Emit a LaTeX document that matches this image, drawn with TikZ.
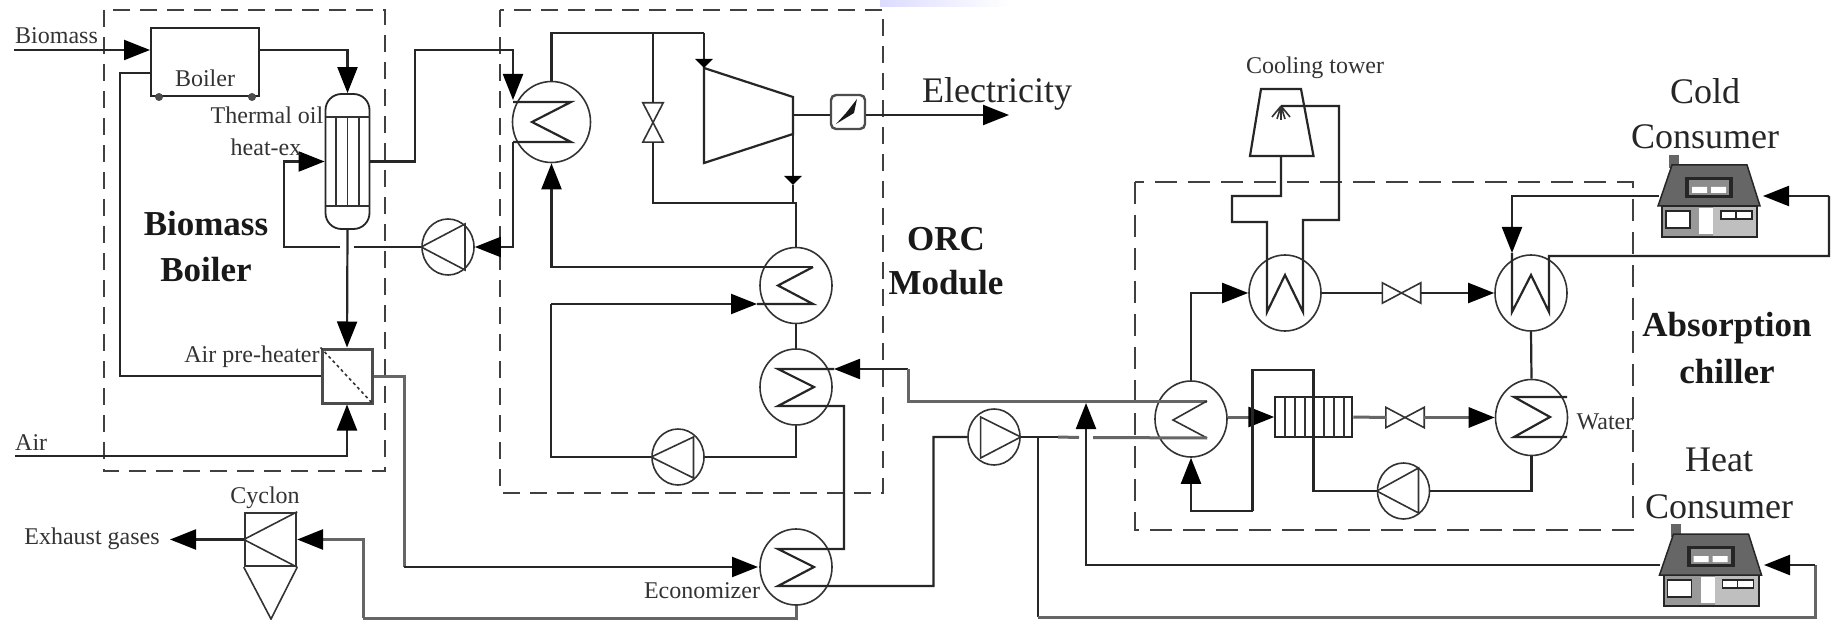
\documentclass[tikz,border=0pt]{standalone}
\usepackage{fontspec}
\setmainfont{Liberation Serif}
\usetikzlibrary{arrows.meta,shapes.geometric}
\newcommand{\bowtieV}[1]{\draw[symline] (#1.north west) -- (#1.south east) -- (#1.south west) -- (#1.north east) -- cycle;}
\newcommand{\bowtieH}[1]{\draw[symline] (#1.north west) -- (#1.south east) -- (#1.north east) -- (#1.south west) -- cycle;}
\tikzset{
  pipe/.style={line width=2.2pt, draw=black!85},
  widepipe/.style={line width=3pt, draw=black!60},
  symline/.style={line width=1.6pt, draw=black!80},
  flow/.style={pipe, -{Triangle[length=26pt,width=20pt,color=black]}},
  wideflow/.style={widepipe, -{Triangle[length=26pt,width=20pt,color=black]}},
  smallflow/.style={pipe, -{Triangle[length=9pt,width=17pt,color=black]}},
  unitbox/.style={dashed, dash pattern=on 17pt off 10pt, line width=2.4pt, draw=black!75},
  hx/.style={draw=black!80, line width=1.6pt, ellipse, minimum width=72pt, minimum height=76pt, inner sep=0pt},
  pump/.style={draw=black!80, line width=1.6pt, ellipse, minimum width=52pt, minimum height=56pt, inner sep=0pt},
  lbl/.style={text=black!80, inner sep=0pt, font=\fontsize{24}{26}\selectfont},
  biglbl/.style={text=black!85, inner sep=0pt, font=\fontsize{36}{38}\selectfont},
  boldlbl/.style={text=black!90, inner sep=0pt, font=\fontsize{35}{38}\selectfont\bfseries},
  pics/house/.style={code={
    \fill[black!60] (-40,-51) rectangle (-30,-38);
    \fill[black!40] (-47,0) rectangle (4,31);
    \fill[black!25] (4,0) rectangle (48,31);
    \draw[line width=2pt, black!85] (-47,0) rectangle (48,31);
    \fill[white] (-10,2) rectangle (4,28);
    \draw[line width=1.5pt, black!85, fill=white] (-43,5) rectangle (-19,22);
    \draw[line width=1.5pt, black!85, fill=white] (12,5) rectangle (43,13);
    \draw[line width=1.5pt, black!85] (27,5) -- (27,13);
    \fill[black!60, draw=black!85, line width=1.5pt] (-51,0) -- (-37,-41) -- (38,-41) -- (51,0) -- cycle;
    \fill[black!85] (-24,-29) rectangle (24,-8);
    \fill[black!45] (-20,-26) rectangle (20,-11);
    \fill[white] (-17,-19) rectangle (-2,-13) (2,-19) rectangle (17,-13);
  }}
}
\begin{document}
\begin{tikzpicture}[x=1pt, y=-1pt]
  \useasboundingbox (0,0) rectangle (1831,620);
  \fill[white] (0,0) rectangle (1831,620);
  \shade[left color=blue!14, right color=white] (880,0) rectangle (1010,7);
  % dashed unit frames
  \draw[unitbox] (104,10) rectangle (385,471);
  \draw[unitbox] (500,10) rectangle (883,493);
  \draw[unitbox, dash pattern=on 22pt off 11pt] (1135,182) rectangle (1633,530);

  % biomass boiler
  \node[draw=black!85, line width=2pt, minimum width=108pt, minimum height=68pt, inner sep=0pt] (boiler) at (205,62) {};
  \fill[black!70] (159,97) circle (4pt) (252,97) circle (4pt);
  \node[lbl] (boilerlbl) at (205,78) {Boiler};
  \node[draw=black!85, line width=1.8pt, rounded corners=16pt, minimum width=44pt, minimum height=135pt, inner sep=0pt] (heatex) at (347.5,161.5) {};
  \draw[symline] (325.5,117) -- (369.5,117) (325.5,206) -- (369.5,206);
  \foreach \tube in {336,347.5,359} \draw[symline] (\tube,117) -- (\tube,206);
  \node[draw=black!70, line width=3pt, minimum width=50pt, minimum height=54pt, inner sep=0pt] (preheater) at (347,376) {};
  \draw[symline, dashed] (preheater.north west) -- (preheater.south east);
  \node[pump] (pumpoil) at (448,247) {};
  \draw[symline] (pumpoil.west) -- (465,224) -- (465,270) -- cycle;
  \node[draw=black!80, line width=2.4pt, minimum width=51pt, minimum height=53pt, inner sep=0pt] (cyclon) at (270.5,539.5) {};
  \draw[symline] (cyclon.north east) -- (cyclon.west) -- (cyclon.south east);
  \draw[symline] (cyclon.south west) -- (271,619) -- (cyclon.south east);

  \coordinate (bioin) at (14,50);
  \coordinate (boilerout) at (259,50);
  \coordinate (boilerair) at (151,73);
  \coordinate (airbend) at (120,376);
  \coordinate (airin) at (15,456);
  \coordinate (oilbend) at (415,50);
  \coordinate (oilin) at (513,100);
  \coordinate (oilout) at (513,142);
  \coordinate (gapright) at (354,247);
  \coordinate (gapleft) at (340,247);
  \coordinate (oilret) at (284,161.5);
  \coordinate (gasbend) at (404,567);
  \coordinate (gasret) at (363,618);
  \coordinate (exhaustend) at (170,539.5);
  \draw[flow] (bioin) -- (boiler.west |- bioin);
  \draw[flow] (boilerout) -| (heatex.north);
  \draw[pipe] (boilerair) -| (airbend) -- (preheater.west);
  \draw[flow] (heatex.east) -| (oilbend) -| (oilin);
  \draw[flow] (oilout) |- (pumpoil.east);
  \draw[pipe] (pumpoil.west) -- (gapright);
  \draw[flow] (gapleft) -| (oilret) -- (heatex.west);
  \draw[flow] (heatex.south) -- (preheater.north);
  \draw[flow] (airin) -| (preheater.south);
  \draw[widepipe] (preheater.east) -| (gasbend);
  \draw[flow] (gasbend) -- ++(354,0);
  \draw[widepipe] (796,605) |- (gasret);
  \draw[wideflow] (gasret) |- (cyclon.east);
  \draw[flow] (cyclon.west) -- (exhaustend);

  % ORC module
  \node[hx, minimum width=78pt, minimum height=81pt] (hxevap) at (551.5,122) {};
  \node[hx] (hxregen) at (796,285.5) {};
  \node[hx] (hxpre) at (796,387) {};
  \node[hx] (hxeco) at (796,567) {};
  \node[pump] (pumporc) at (678,457) {};
  \draw[symline] (pumporc.west) -- (693.5,437) -- (693.5,478) -- cycle;
  \node[minimum width=20pt, minimum height=39pt, inner sep=0pt] (valveorc) at (653,122.5) {};
  \bowtieV{valveorc}
  \node[draw=black!70, line width=2.4pt, rounded corners=5pt, minimum width=34pt, minimum height=34pt, inner sep=0pt] (generator) at (848,112) {};
  \fill[black!90] (836,124) -- (846,113) -- (857,99) -- (854,113) -- cycle;
  \draw[pipe] (704,68) -- (793,97) -- (793,134) -- (704,163) -- cycle;

  \coordinate (topbend) at (704,33);
  \coordinate (turbtip) at (704,68);
  \coordinate (valvetap) at (653,33);
  \coordinate (turbout) at (793,134);
  \coordinate (turbmid) at (793,185);
  \coordinate (orcjoin) at (796,203);
  \coordinate (elecend) at (1009,115);
  \coordinate (orcturn) at (551,304);
  \coordinate (orctip) at (757,304);
  \coordinate (hotin) at (908,369);
  \coordinate (hottip) at (834,369);
  \coordinate (ecobendA) at (844,406);
  \coordinate (ecobendB) at (844,549);
  \coordinate (ecobendC) at (933.5,586);
  \draw[pipe] (513,102) -- (571,102) -- (532,122) -- (571,142) -- (oilout);
  \draw[pipe] (hxevap.north) |- (topbend);
  \draw[smallflow] (topbend) -- (turbtip);
  \draw[pipe] (valvetap) -- (valveorc.north);
  \draw[pipe] (valveorc.south) |- (orcjoin) -- (hxregen.north);
  \draw[smallflow] (turbout) -- (turbmid);
  \draw[pipe] (turbmid) -- (793,203);
  \draw[pipe] (793,115) -- (generator.west |- 793,115);
  \draw[flow] (generator.east |- 793,115) -- (elecend);
  \draw[flow] (813,267) -| (hxevap.south);
  \draw[pipe] (813,267) -- (778,285.5) -- (813,304) -- (orctip);
  \draw[flow] (orcturn) -- (orctip);
  \draw[pipe] (orcturn) |- (pumporc.west);
  \draw[pipe] (pumporc.east) -| (hxpre.south);
  \draw[pipe] (hxregen.south) -- (hxpre.north);
  \draw[flow] (hotin) -- (hottip);
  \draw[pipe] (hottip) -- (778,369) -- (814,387) -- (778,406) -- (ecobendA) -- (ecobendB) -- (778,549) -- (814,567) -- (778,586) -- (ecobendC) |- (968,437);

  % absorption chiller
  \node[hx] (hxcond) at (1285,293) {};
  \node[hx] (hxevac) at (1531,293) {};
  \node[hx] (hxgen) at (1191,419) {};
  \node[hx] (hxabs) at (1531.5,417.5) {};
  \node[pump] (pumphot) at (994,437) {};
  \draw[symline] (980.6,417) -- (pumphot.east) -- (980.6,458) -- cycle;
  \node[pump] (pumpabs) at (1403.5,491) {};
  \draw[symline] (pumpabs.west) -- (1418.5,468) -- (1418.5,513) -- cycle;
  \node[minimum width=38pt, minimum height=20pt, inner sep=0pt] (valvecond) at (1401.5,293) {};
  \bowtieH{valvecond}
  \node[minimum width=38pt, minimum height=20pt, inner sep=0pt] (valveabs) at (1405,417.5) {};
  \bowtieH{valveabs}
  \node[draw=black!85, line width=2pt, minimum width=77pt, minimum height=40pt, inner sep=0pt] (recup) at (1313.75,417) {};
  \foreach \rib in {1285,1295,1305,1324,1334,1344} \draw[symline] (\rib,397) -- (\rib,437);

  \coordinate (tower) at (1281,156);
  \coordinate (coolA) at (1232,196);
  \coordinate (coolB) at (1267,222);
  \coordinate (coolC) at (1303,220);
  \coordinate (coolD) at (1339,106);
  \coordinate (spray) at (1281,106);
  \draw[pipe] (1261,89) -- (1301,89) -- (1313.5,156) -- (1250,156) -- cycle;
  \draw[symline] (spray) -- (1272,117) (spray) -- (1277,119) (spray) -- (1281,120) (spray) -- (1285,119) (spray) -- (1290,117);
  \draw[pipe] (tower) |- (coolA) |- (coolB) -- (1267,312) -- (1285,275) -- (1303,312) -- (coolC) -| (coolD) -- (spray);

  \coordinate (coldleft) at (1659,196);
  \coordinate (coldright) at (1763,196);
  \coordinate (coldturn) at (1829,196);
  \coordinate (chillin) at (1512,253);
  \coordinate (chillout) at (1549,256);
  \coordinate (heatleft) at (1660,565);
  \coordinate (heatright) at (1764,565);
  \coordinate (heatturn) at (1815,565);
  \coordinate (hottap) at (1038,437);
  \coordinate (hotbot) at (1038,617);
  \coordinate (rettip) at (1086,403);
  \coordinate (recuptop) at (1313.5,370);
  \coordinate (recuploop) at (1252.5,511);
  \coordinate (coilhotA) at (1207,401);
  \coordinate (coilhotB) at (1207,438);
  \coordinate (crossleft) at (1079,437.5);
  \coordinate (crossright) at (1093,437.5);
  \coordinate (hotfade) at (1058,437);
  \draw[flow] (coldleft) -| (chillin);
  \draw[pipe] (chillin) -- (1512,312) -- (1531,275) -- (1549,312) -- (chillout) -| (coldturn);
  \draw[flow] (coldturn) -- (coldright);
  \draw[flow] (hxgen.north) |- (hxcond.west);
  \draw[pipe] (hxcond.east) -- (valvecond.west);
  \draw[flow] (valvecond.east) -- (hxevac.west);
  \draw[pipe] (hxevac.south) -- (hxabs.north);
  \draw[wideflow] (hxgen.east |- recup.west) -- (recup.west);
  \draw[widepipe] (recup.east) -- (valveabs.west);
  \draw[wideflow] (valveabs.east) -- (hxabs.west);
  \draw[pipe] (1567,397) -- (1514,397) -- (1550,417) -- (1514,437) -- (1567,437);
  \draw[pipe] (hxabs.south) |- (pumpabs.east);
  \draw[pipe] (pumpabs.west) -| (recuptop) -| (recuploop);
  \draw[flow] (recuploop) -| (hxgen.south);
  \draw[widepipe] (hotin) |- (coilhotA);
  \draw[symline] (coilhotA) -- (1173,420) -- (coilhotB);
  \draw[widepipe] (coilhotB) -- (crossright);
  \draw[widepipe] (crossleft) -- (hotfade);
  \draw[pipe] (hotfade) -- (pumphot.east);
  \draw[pipe] (hottap) -- (hotbot);
  \draw[widepipe] (hotbot) -| (heatturn);
  \draw[flow] (heatturn) -- (heatright);
  \draw[flow] (heatleft) -| (rettip);

  \pic at (1709,206) {house};
  \pic at (1710.5,575) {house};

  % text
  \node[lbl, anchor=west] (biomasslbl) at (15,36) {Biomass};
  \node[lbl, anchor=west] (airlbl) at (15,443) {Air};
  \node[lbl] (oillbl) at (267,115) {Thermal oil};
  \node[lbl] (exlbl) at (266,147) {heat-ex};
  \node[lbl] (prelbl) at (252,357) {Air pre-heater};
  \node[lbl] (exhaustlbl) at (92,539) {Exhaust gases};
  \node[lbl] (cyclonlbl) at (265,498) {Cyclon};
  \node[lbl] (ecolbl) at (702,591) {Economizer};
  \node[lbl] (towerlbl) at (1315,68) {Cooling tower};
  \node[lbl] (waterlbl) at (1605,422) {Water};
  \node[boldlbl] (boilerA) at (206,224) {Biomass};
  \node[boldlbl] (boilerB) at (206,270) {Boiler};
  \node[boldlbl] (orcA) at (946,239) {ORC};
  \node[boldlbl] (orcB) at (946,283) {Module};
  \node[boldlbl] (absA) at (1727,328) {Absorption};
  \node[boldlbl] (absB) at (1727,372) {chiller};
  \node[biglbl] (eleclbl) at (997,94) {Electricity};
  \node[biglbl] (coldA) at (1705,91) {Cold};
  \node[biglbl] (coldB) at (1705,137) {Consumer};
  \node[biglbl] (heatA) at (1719,460) {Heat};
  \node[biglbl] (heatB) at (1719,507) {Consumer};
\end{tikzpicture}
\end{document}
